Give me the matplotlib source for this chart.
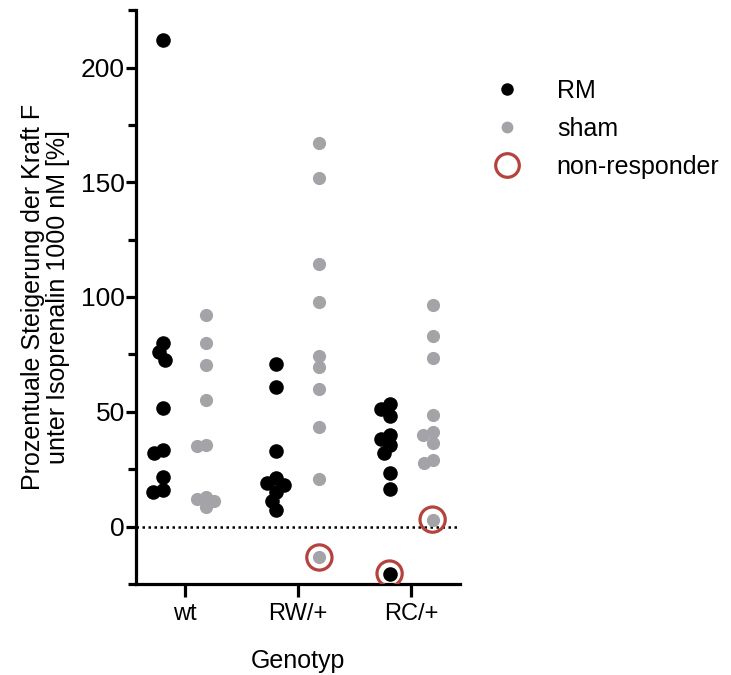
import numpy as np
import matplotlib
matplotlib.use("Agg")
import matplotlib.pyplot as plt
from matplotlib.lines import Line2D

plt.rcParams['font.family'] = ['Liberation Sans', 'DejaVu Sans']

# --- data ---
genotypes = ["wt", "RW/+", "RC/+"]
rm_values = [
    [212, 80, 76, 72.5, 51.5, 33.5, 32, 21.5, 16, 15],
    [71, 61, 33, 21, 19, 18, 15, 11, 7],
    [53.5, 51, 48, 40, 38, 35.5, 32, 23.5, 16.5, -20.5],
]
sham_values = [
    [92, 80, 70.5, 55, 35.5, 35, 13, 12, 11, 8.5],
    [167, 152, 114.5, 98, 74.5, 69.5, 60, 43.5, 20.5, -13.5],
    [96.5, 83, 73.5, 48.5, 41, 40, 36.5, 29, 27.5, 3],
]
# non-responders (genotype, series, value)
nr_genotype = ["RW/+", "RC/+", "RC/+"]
nr_series = ["sham", "RM", "sham"]
nr_value = [-13.5, -20.5, 3]

c_rm = "#000000"
c_sham = "#a3a3a8"
c_nr = "#b5433d"

fig = plt.figure(figsize=(7.31, 6.75), dpi=100)
ax = fig.add_axes([0.186, 0.135, 0.443, 0.850])
ax.set_xlim(-0.43, 2.43)
ax.set_ylim(-25, 225)


def swarm(values, center, diam):
    """simple beeswarm in pixel space, returns x positions in data units"""
    to_px = ax.transData.transform
    to_data = ax.transData.inverted().transform
    cx = to_px((center, 0))[0]
    placed = []
    xs = []
    for v in values:
        y = to_px((center, v))[1]
        cands = [cx]
        for px, py in placed:
            dy = abs(py - y)
            if dy < diam:
                dx = np.sqrt(diam ** 2 - dy ** 2)
                cands += [px - dx, px + dx]
        cands.sort(key=lambda c: abs(c - cx))
        for c in cands:
            if all(np.hypot(c - px, y - py) >= diam - 1e-6 for px, py in placed):
                break
        placed.append((c, y))
        xs.append(to_data((c, y))[0])
    return xs


pos = {}
for i, g in enumerate(genotypes):
    xr = swarm(rm_values[i], i - 0.19, 10)
    xsh = swarm(sham_values[i], i + 0.19, 9.5)
    ax.scatter(xr, rm_values[i], s=110, color=c_rm, linewidths=0, zorder=3)
    ax.scatter(xsh, sham_values[i], s=90, color=c_sham, linewidths=0, zorder=3)
    pos[(g, "RM")] = dict(zip(rm_values[i], xr))
    pos[(g, "sham")] = dict(zip(sham_values[i], xsh))

for g, s, v in zip(nr_genotype, nr_series, nr_value):
    ax.scatter([pos[(g, s)][v]], [v], s=330, facecolors="none",
               edgecolors=c_nr, linewidths=2.3, zorder=4)

ax.axhline(0, color="black", lw=1.8, linestyle=(0, (1, 1.4)), zorder=2)

for side in ["top", "right"]:
    ax.spines[side].set_visible(False)
for side in ["left", "bottom"]:
    ax.spines[side].set_linewidth(2.3)

ax.set_xticks(range(len(genotypes)))
ax.set_xticklabels(genotypes, fontsize=17)
ax.set_yticks([0, 50, 100, 150, 200])
ax.set_yticks([-25, 25, 75, 125, 175, 225], minor=True)
ax.tick_params(axis="y", labelsize=19, width=2.3, length=7, pad=1)
ax.tick_params(axis="y", which="minor", width=2.3, length=5.5)
ax.tick_params(axis="x", width=2.3, length=9, pad=5)

ax.set_xlabel("Genotyp", fontsize=18, labelpad=17)
ax.set_ylabel("Prozentuale Steigerung der Kraft F\nunter Isoprenalin 1000 nM [%]",
              fontsize=18, labelpad=8, linespacing=1.05)

handles = [
    Line2D([], [], marker="o", linestyle="none", markersize=9,
           markerfacecolor=c_rm, markeredgewidth=0),
    Line2D([], [], marker="o", linestyle="none", markersize=8.5,
           markerfacecolor=c_sham, markeredgewidth=0),
    Line2D([], [], marker="o", linestyle="none", markersize=17,
           markerfacecolor="none", markeredgecolor=c_nr, markeredgewidth=2.3),
]
fig.legend(handles, ["RM", "sham", "non-responder"], loc="upper left",
           bbox_to_anchor=(0.642, 0.916), frameon=False, fontsize=18,
           handlelength=1.2, handletextpad=1.4, labelspacing=0.55)

fig.savefig("out.png", dpi=100)
